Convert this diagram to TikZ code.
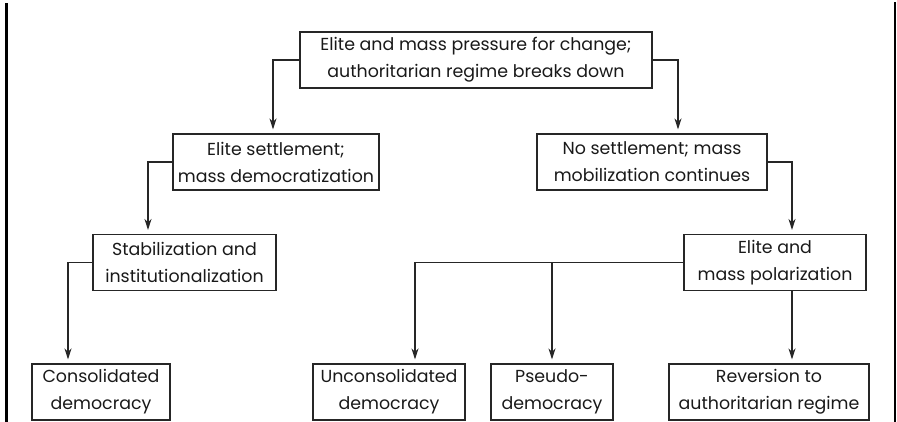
\documentclass[tikz,border=0pt]{standalone}
\usepackage{fontspec}
\setmainfont{Poppins}
\usetikzlibrary{arrows.meta}
\tikzset{mybox/.style={
  shape=rectangle,
  draw=black!85,
  line width=1.1pt,
  align=center,
  minimum height=56pt,
  inner sep=2pt,
  font=\fontsize{17.4}{27}\selectfont,
  text=black!90,
  },
  myarrow/.style={
  draw=black!85,
  line width=1.1pt,
  -{Stealth[length=11pt,width=7pt]},
  shorten >=4pt,
  }
  }

\begin{document}
\begin{tikzpicture}[x=1pt,y=1pt]
    \useasboundingbox (0,0) rectangle (897,422);
    % side rules
    \draw[line width=2.5pt] (6.3,0) -- (6.3,419);
    \draw[line width=2pt] (895.2,0) -- (895.2,420);

    \node[mybox, minimum width=352pt] (top) at (476,362)
      {Elite and mass pressure for change;\\ authoritarian regime breaks down};
    \node[mybox, minimum width=206pt] (settle) at (276,260)
      {Elite settlement;\\ mass democratization};
    \node[mybox, minimum width=230pt] (nosettle) at (652,260)
      {No settlement; mass\\ mobilization continues};
    \node[mybox, minimum width=183pt] (stab) at (184.5,159.5)
      {Stabilization and\\ institutionalization};
    \node[mybox, minimum width=182pt] (polar) at (775,159.5)
      {Elite and\\ mass polarization};
    \node[mybox, minimum width=138pt] (consol) at (101,30)
      {Consolidated\\ democracy};
    \node[mybox, minimum width=152pt] (uncons) at (389,30)
      {Unconsolidated\\ democracy};
    \node[mybox, minimum width=122pt] (pseudo) at (552,30)
      {Pseudo-\\ democracy};
    \node[mybox, minimum width=200pt] (revers) at (769,30)
      {Reversion to\\ authoritarian regime};

    \draw[myarrow] (top.west) -| ([xshift=-3pt]settle.north);
    \draw[myarrow] (top.east) -| ([xshift=26pt]nosettle.north);
    \draw[myarrow] (settle.west) -| ([xshift=-36.5pt]stab.north);
    \draw[myarrow] (nosettle.east) -| ([xshift=17pt]polar.north);
    \draw[myarrow] (stab.west) -| ([xshift=-33pt]consol.north);
    \draw[myarrow] (polar.west) -| ([xshift=26pt]uncons.north);
    \draw[myarrow] (polar.west -| pseudo.north) -- (pseudo.north);
    \draw[myarrow] ([xshift=17pt]polar.south) -- ([xshift=23pt]revers.north);
\end{tikzpicture}
\end{document}
